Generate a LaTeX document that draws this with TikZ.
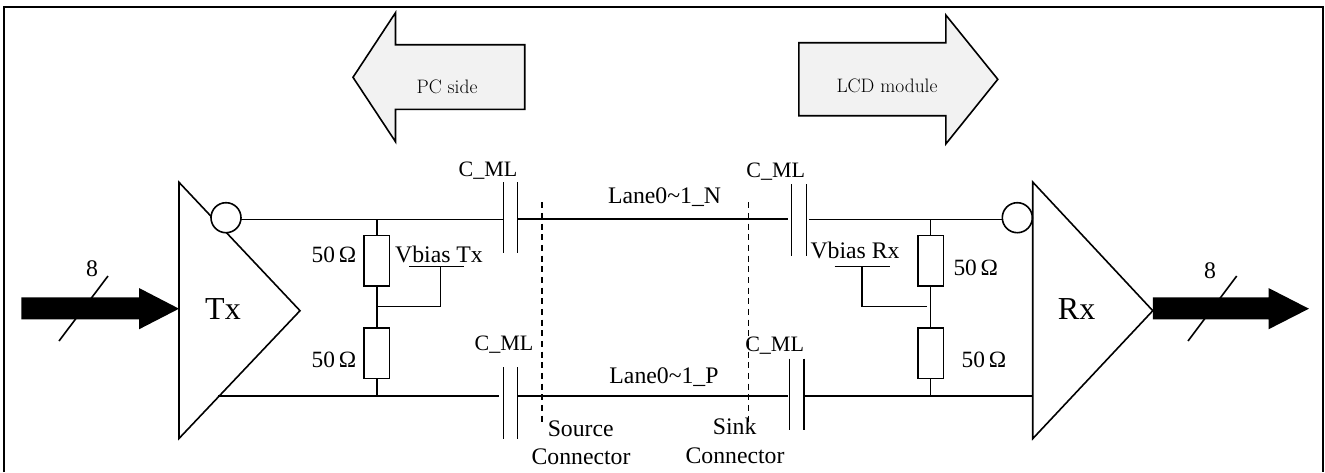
\documentclass[tikz,border=0pt]{standalone}
\usepackage{fontspec}
\setmainfont{Liberation Serif}
\newfontfamily\lmfont{Latin Modern Roman}
\usetikzlibrary{calc}
\tikzset{
  wire/.style={line width=1.2pt,line join=miter},
  lanewire/.style={line width=1.6pt},
  plate/.style={line width=1.2pt},
  frameline/.style={line width=1.4pt},
  lbl/.style={inner sep=0pt,font=\fontsize{17.8pt}{19pt}\selectfont},
  cmllbl/.style={inner sep=0pt,font=\fontsize{16.5pt}{18pt}\selectfont},
  ohmlbl/.style={inner sep=0pt,font=\fontsize{17.5pt}{19pt}\selectfont},
  bigtext/.style={inner sep=0pt,font=\fontsize{24pt}{26pt}\selectfont},
  sidetext/.style={inner sep=0pt,font=\lmfont\fontsize{14.6pt}{16pt}\selectfont},
  res/.style={draw,line width=1.2pt,minimum width=19.2pt,minimum height=37.8pt,inner sep=0pt,outer sep=0pt},
  bubble/.style={draw,circle,line width=1.2pt,minimum size=22.5pt,inner sep=0pt,outer sep=0pt},
  busarrow/.style={fill=black,draw=none},
  blockarrow/.style={draw,line width=1.2pt,line join=miter,fill=black!5},
  dashline/.style={line width=0.9pt,dash pattern=on 4.5pt off 3.5pt},
}
\begin{document}
\begin{tikzpicture}[x=0.75pt,y=-0.75pt]
\useasboundingbox (0,0) rectangle (1325,472);
\fill[white] (0,0) rectangle (1325,472);
\draw[frameline] (4,472) -- (4,7) -- (1323,7) -- (1323,472);

% side arrows
\draw[blockarrow] (353,77.3) -- (395.5,12.7) -- (395.5,44.7) -- (524.7,44.7) -- (524.7,109.3) -- (395.5,109.3) -- (395.5,141.7) -- cycle;
\draw[blockarrow] (997.8,79.3) -- (945.8,15) -- (945.8,42.7) -- (798.8,42.7) -- (798.8,115.7) -- (945.8,115.7) -- (945.8,144) -- cycle;
\node[sidetext] (pc) at (447,86.7) {PC side};
\node[sidetext] (lcd) at (887,86) {LCD module};

% Tx / Rx triangles
\coordinate (txa) at (179,182.3);
\coordinate (txb) at (179,438.5);
\coordinate (txc) at (300,310.7);
\draw[wire] (txa) -- (txc) -- (txb) -- cycle;
\coordinate (rxa) at (1032.7,182);
\coordinate (rxb) at (1032.7,438.7);
\coordinate (rxc) at (1152.8,310.7);
\draw[wire] (rxa) -- (rxc) -- (rxb) -- cycle;
\node[bigtext] (tx) at (223,309) {Tx};
\node[bigtext] (rx) at (1076.6,309) {Rx};

% inversion bubbles
\node[bubble,fill=white] (txo) at (226,217.7) {};
\node[bubble,fill=white] (rxo) at (1017.3,217.7) {};

% capacitor plates
\coordinate (c1a) at (503.6,182); \coordinate (c1b) at (503.6,253);
\coordinate (c1c) at (517.5,182); \coordinate (c1d) at (517.5,253);
\coordinate (c2a) at (503.6,367); \coordinate (c2b) at (503.6,438.7);
\coordinate (c2c) at (517.5,367); \coordinate (c2d) at (517.5,438.7);
\coordinate (c3a) at (791.5,184); \coordinate (c3b) at (791.5,255.7);
\coordinate (c3c) at (806.5,184); \coordinate (c3d) at (806.5,255.7);
\coordinate (c4a) at (789.5,358.7); \coordinate (c4b) at (789.5,430.3);
\coordinate (c4c) at (804,358.7); \coordinate (c4d) at (804,430.3);
\foreach \p/\q in {c1a/c1b,c1c/c1d,c2a/c2b,c2c/c2d,c3a/c3b,c3c/c3d,c4a/c4b,c4c/c4d}
  \draw[plate] (\p) -- (\q);

% resistors
\node[res] (r1) at (376.8,260.6) {};
\node[res] (r2) at (376.8,353.2) {};
\node[res] (r3) at (930.6,260.6) {};
\node[res] (r4) at (930.6,353.2) {};

% wires, upper line
\coordinate (t1) at (376.8,219.3);
\coordinate (t2) at (503.6,219.3);
\coordinate (t3) at (517.5,219.3);
\coordinate (t4) at (787.5,219.3);
\coordinate (t5) at (809,219.3);
\coordinate (t6) at (930.6,219.3);
\draw[wire] (txo.east |- t1) -- (t2);
\draw[lanewire] (t3) -- (t4);
\draw[wire] (t5) -- (rxo.west |- t6);
\draw[wire] (t1) -- (r1.north);
\draw[wire] (t6) -- (r3.north);

% wires, lower line
\coordinate (b0) at (218.4,396.2);
\coordinate (b1) at (376.8,396.2);
\coordinate (b2) at (499,396.2);
\coordinate (b3) at (517.5,396.2);
\coordinate (b4) at (788,396.2);
\coordinate (b5) at (804,396.2);
\coordinate (b6) at (930.6,396.2);
\coordinate (b7) at (1032.7,396.2);
\draw[wire] (b0) -- (b2);
\draw[wire] (b3) -- (b4);
\draw[wire] (b5) -- (b7);
\draw[wire] (r2.south) -- (b1);
\draw[wire] (r4.south) -- (b6);
\draw[wire] (r1.south) -- (r2.north);
\draw[wire] (r3.south) -- (r4.north);

% bias
\coordinate (j1) at (376.8,306.5);
\coordinate (k1) at (440.4,306.5);
\coordinate (m1) at (440.4,266.3);
\coordinate (n1) at (409,266.3);
\coordinate (o1) at (464,266.3);
\draw[wire] (j1) -- (k1) -- (m1);
\draw[wire] (n1) -- (o1);
\coordinate (j2) at (927,306.5);
\coordinate (k2) at (862,306.5);
\coordinate (m2) at (862,266.3);
\coordinate (n2) at (834.7,266.3);
\coordinate (o2) at (890.3,266.3);
\draw[wire] (j2) -- (k2) -- (m2);
\draw[wire] (n2) -- (o2);

% connector reference lines
\coordinate (s1) at (542,202.3);
\coordinate (s2) at (542,421.7);
\coordinate (s3) at (748.4,202.3);
\coordinate (s4) at (748.4,421.7);
\draw[dashline] (s1) -- (s2);
\draw[dashline] (s3) -- (s4);

% bus arrows
\draw[plate] (108,276) coordinate (w1) -- (59,341) coordinate (w2);
\fill[busarrow] (21.4,297.3) -- (139,297.3) -- (139,288) -- (179,308.7) -- (139,329.3) -- (139,319.3) -- (21.4,319.3) -- cycle;
\draw[plate] (1236.7,276) coordinate (w3) -- (1188,341) coordinate (w4);
\fill[busarrow] (1152.8,297.3) -- (1268.5,297.3) -- (1268.5,288) -- (1308.9,308.7) -- (1268.5,329.3) -- (1268.5,319.3) -- (1152.8,319.3) -- cycle;

% labels
\node[lbl] (n8a) at (92,269) {8};
\node[lbl] (n8b) at (1210,270.7) {8};
\node[cmllbl] (cml1) at (488,170.7) {C\_ML};
\node[cmllbl] (cml2) at (504,345) {C\_ML};
\node[cmllbl] (cml3) at (775.8,171.7) {C\_ML};
\node[cmllbl] (cml4) at (774.6,346) {C\_ML};
\node[ohmlbl] (ohm1) at (334,255) {50\,Ω};
\node[ohmlbl] (ohm2) at (334,360) {50\,Ω};
\node[ohmlbl] (ohm3) at (975.8,267.7) {50\,Ω};
\node[ohmlbl] (ohm4) at (984,360) {50\,Ω};
\node[lbl] (vb1) at (439,254) {Vbias Tx};
\node[lbl] (vb2) at (855,250) {Vbias Rx};
\node[lbl] (lane1) at (664.5,197) {Lane0\textasciitilde 1\_N};
\node[lbl] (lane2) at (664,377) {Lane0\textasciitilde 1\_P};
\node[lbl] (src) at (580.7,429) {Source};
\node[lbl] (srcc) at (581,457) {Connector};
\node[lbl] (snk) at (734.7,426.7) {Sink};
\node[lbl] (snkc) at (735,456) {Connector};
\end{tikzpicture}
\end{document}
